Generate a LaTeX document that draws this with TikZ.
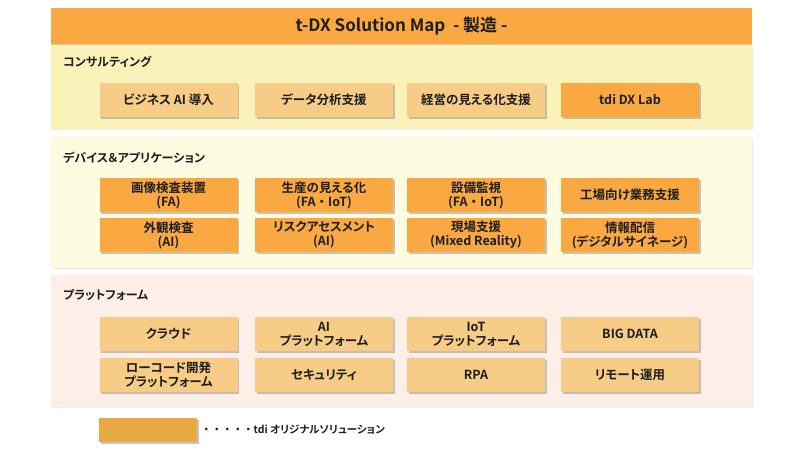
\documentclass[tikz,border=0pt]{standalone}
\usepackage{fontspec}
\setmainfont{Noto Sans CJK JP}[BoldFont={* Bold},RawFeature=+palt]
\usepackage{tikz}
\usetikzlibrary{shadows}
\definecolor{torange}{RGB}{249,168,66}
\definecolor{bsand}{RGB}{246,204,134}
\definecolor{bgA}{RGB}{251,242,186}
\definecolor{bgB}{RGB}{253,251,224}
\definecolor{bgC}{RGB}{253,239,231}
\definecolor{lgold}{RGB}{232,168,66}
\definecolor{ink}{RGB}{30,30,30}
\newcommand{\wdot}{{\addfontfeatures{RawFeature=-palt}・}}
\tikzset{
  ttl/.style={fill=torange,minimum width=701pt,minimum height=36pt,inner sep=0pt,font=\bfseries\fontsize{17}{20}\selectfont,text=ink,drop shadow={shadow xshift=0pt,shadow yshift=-1.2pt,opacity=0.35}},
  sec/.style={minimum width=701pt,inner sep=0pt,drop shadow={shadow xshift=1pt,shadow yshift=-1pt,opacity=0.15}},
  hd/.style={anchor=west,inner sep=0pt,font=\bfseries\fontsize{12}{14}\selectfont,text=ink},
  sol/.style={fill=bsand,minimum width=138pt,minimum height=34pt,inner sep=0pt,align=center,font=\bfseries\fontsize{12.5}{14}\selectfont,text=ink,drop shadow={shadow xshift=1.5pt,shadow yshift=-1.5pt,opacity=0.45}},
  own/.style={sol,fill=torange},
  lg/.style={anchor=west,inner sep=0pt,font=\bfseries\fontsize{10.5}{12}\selectfont,text=ink},
}
\begin{document}
\begin{tikzpicture}[x=1pt,y=-1pt]
\useasboundingbox (0,0) rectangle (800,451);
% sections
\node[sec,fill=bgA,minimum height=85pt] (sA) at (401.5,86.5) {};
\node[sec,fill=bgB,minimum height=131pt] (sB) at (401.5,202.5) {};
\node[sec,fill=bgC,minimum height=132pt] (sC) at (401.5,341) {};
\node[ttl] (title) at (401.5,26) {t-DX Solution Map\ \ - 製造 -};
\node[hd] (hA) at (63,62) {コンサルティング};
\node[hd] (hB) at (63,158) {デバイス＆アプリケーション};
\node[hd] (hC) at (63,295) {プラットフォーム};
% consulting
\node[sol] (a1) at (168.5,100) {ビジネス AI 導入};
\node[sol] (a2) at (324,100) {データ分析支援};
\node[sol] (a3) at (476,100) {経営の見える化支援};
\node[own] (a4) at (630,100) {tdi DX Lab};
% devices & applications
\node[own] (b1) at (168.5,195) {画像検査装置\\(FA)};
\node[own] (b2) at (324,195) {生産の見える化\\(FA\wdot IoT)};
\node[own] (b3) at (476,195) {設備監視\\(FA\wdot IoT)};
\node[own] (b4) at (630,195) {工場向け業務支援};
\node[own] (b5) at (168.5,235) {外観検査\\(AI)};
\node[own] (b6) at (324,235) {リスクアセスメント\\(AI)};
\node[own] (b7) at (476,235) {現場支援\\(Mixed Reality)};
\node[own] (b8) at (630,235) {情報配信\\(デジタルサイネージ)};
% platform
\node[sol] (c1) at (168.5,334) {クラウド};
\node[sol] (c2) at (324,334) {AI\\プラットフォーム};
\node[sol] (c3) at (476,334) {IoT\\プラットフォーム};
\node[sol] (c4) at (630,334) {BIG DATA};
\node[sol] (c5) at (168.5,375) {ローコード開発\\プラットフォーム};
\node[sol] (c6) at (324,375) {セキュリティ};
\node[sol] (c7) at (476,375) {RPA};
\node[sol] (c8) at (630,375) {リモート運用};
% legend
\node[sol,fill=lgold,minimum width=98pt,minimum height=24pt] (key) at (148,430) {};
\node[lg] (keytext) at (201,430) {\wdot\wdot\wdot\wdot\wdot tdi オリジナルソリューション};
\end{tikzpicture}
\end{document}
